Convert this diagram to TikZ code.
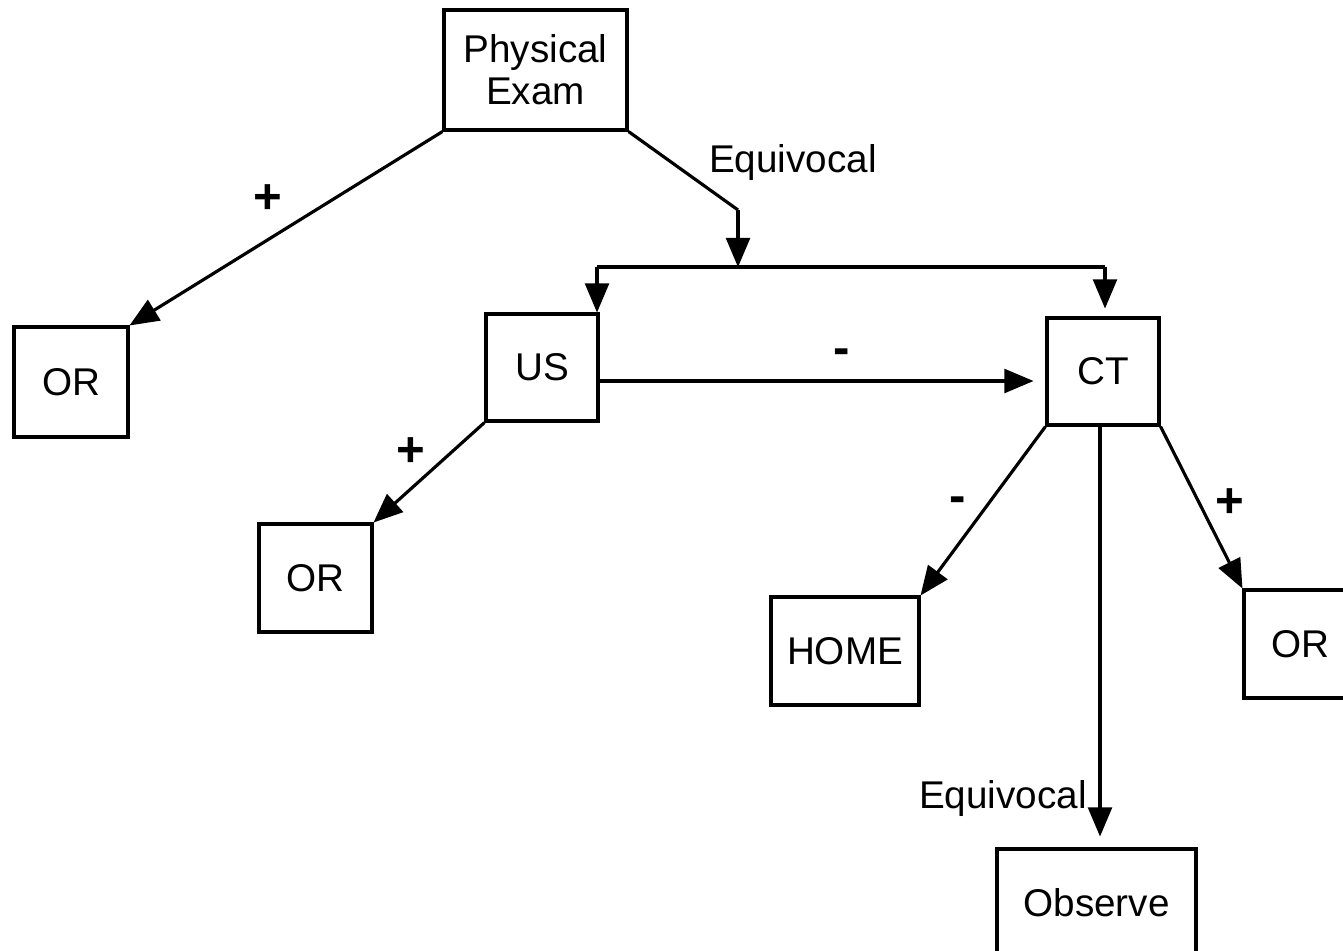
\documentclass[tikz,border=0pt]{standalone}
\usepackage{fontspec}
\setmainfont{Liberation Sans}
\usetikzlibrary{shapes,positioning,arrows,calc}

\tikzset{
  box/.style={draw, line width=0.9pt, minimum width=#1, minimum height=1.08cm, inner sep=0pt, align=center},
  lbl/.style={inner sep=0pt, font=\fontsize{14}{14}\bfseries\selectfont},
  link/.style={line width=0.9pt, -triangle 45},
  plain/.style={line width=0.9pt}
}

\begin{document}
\begin{tikzpicture}[font=\fontsize{11}{12}\selectfont]
\clip (0,0) rectangle (13.43,-9.5);
\node[box=1.83cm, minimum height=1.2cm] at (5.355,-0.70) (exam) {Physical\\Exam};
\node[box=1.14cm, minimum height=1.1cm] at (0.71,-3.82) (or1) {OR};
\node[box=1.12cm, minimum height=1.07cm] at (5.42,-3.675) (us) {US};
\node[box=1.12cm, minimum height=1.07cm] at (11.03,-3.715) (ct) {CT};
\node[box=1.13cm] at (3.155,-5.78) (or2) {OR};
\node[box=1.48cm] at (8.45,-6.51) (home) {HOME};
\node[box=1.12cm] at (13.0,-6.44) (or3) {OR};
\node[box=1.99cm] at (10.965,-9.03) (obs) {Observe};
\coordinate (bend) at (7.38,-2.10);
\coordinate (split) at (7.38,-2.67);
\coordinate (left) at (5.97,-2.67);
\coordinate (right) at (11.05,-2.67);
\coordinate (usout) at ([yshift=-1.35mm]us.east);

\draw[link] (exam.south west) --node[lbl, pos=0.557, yshift=0.40cm]{+} (or1.north east);
\draw[plain] (exam.south east) --node[pos=1, inner sep=0pt, shift={(0.55cm,0.47cm)}]{Equivocal} (bend);
\draw[link] (bend) -- (split);
\draw[plain] (left) -- (right);
\draw[link] (left) -- (left |- us.north);
\draw[link, shorten >=0.8mm] (right) -- (right |- ct.north);
\draw[link, shorten >=1.2mm] (usout) --node[lbl, pos=0.542, yshift=0.24cm]{-} (usout -| ct.west);
\draw[link] (us.south west) --node[lbl, pos=0.667, yshift=0.37cm]{+} (or2.north east);
\draw[link] (ct.south west) --node[lbl, pos=0.703, yshift=0.41cm]{-} (home.north east);
\draw[link, shorten >=1.1mm] ([xshift=-0.3mm]ct.south) --node[pos=0.884, left]{Equivocal} ([xshift=-0.3mm]ct.south |- obs.north);
\draw[link] (ct.south east) --node[lbl, pos=0.81, xshift=0.03cm, yshift=0.55cm]{+} (or3.north west);
\end{tikzpicture}
\end{document}
